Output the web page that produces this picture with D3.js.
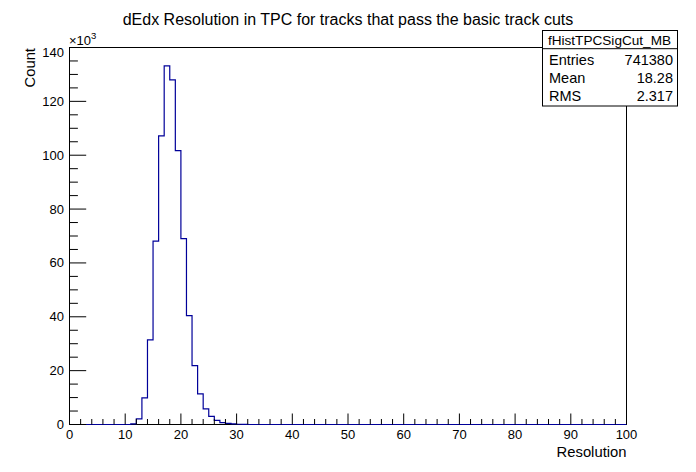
<!DOCTYPE html>
<html>
<head>
<meta charset="utf-8">
<script src="https://cdn.jsdelivr.net/npm/d3@7"></script>
<style>
  html, body { margin: 0; padding: 0; background: #fff; }
  svg { display: block; }
  text { font-family: "Liberation Sans", Arial, Helvetica, sans-serif; fill: #000; }
</style>
</head>
<body>
<svg id="chart" width="696" height="472"></svg>
<script>
// Bin lower edges (width 1) and counts (thousands)
const binStarts = [0,1,2,3,4,5,6,7,8,9,10,11,12,13,14,15,16,17,18,19,20,21,22,23,24,25,26,27,28,29,30,31,32,33,34,35];
const counts = [0,0,0,0,0,0,0,0,0,0,0,0.25,2.1,9.9,31.4,68.1,107.2,133.2,128.0,101.7,69.0,40.4,21.9,11.4,5.8,3.0,1.5,0.7,0.4,0.2,0.1,0.05,0,0,0,0];
const xTicks = [0,10,20,30,40,50,60,70,80,90,100];
const yTicks = [0,20,40,60,80,100,120,140];
const statsLabels = ["Entries","Mean","RMS"];
const statsValues = ["741380","18.28","2.317"];
const titleText = "dEdx Resolution in TPC for tracks that pass the basic track cuts";
const statsTitle = "fHistTPCSigCut_MB";

const svg = d3.select("#chart");
const L = 69.5, R = 626.5, T = 47.5, B = 424.5;
const x = d3.scaleLinear().domain([0,100]).range([L,R]);
const y = d3.scaleLinear().domain([0,140]).range([B,T]);
const lineColor = "#000099";

// frame
svg.append("rect").attr("x",L).attr("y",T).attr("width",R-L).attr("height",B-T)
  .attr("fill","none").attr("stroke","#000").attr("stroke-width",1);

// histogram outline (step)
const pts = [];
pts.push([x(0), y(0)]);
binStarts.forEach((b,i) => {
  pts.push([x(b), y(counts[i])]);
  pts.push([x(b+1), y(counts[i])]);
});
pts.push([x(100), y(0)]);
svg.append("path")
  .attr("d", d3.line()(pts))
  .attr("fill","none").attr("stroke",lineColor).attr("stroke-width",1.2);

// X axis ticks (inward)
const xMinor = d3.range(0,101,2);
svg.append("g").selectAll("line").data(xMinor).join("line")
  .attr("x1",d=>x(d)).attr("x2",d=>x(d))
  .attr("y1",B).attr("y2",d=> d%10===0 ? B-11 : B-5.5)
  .attr("stroke","#000").attr("stroke-width",1);
svg.append("g").selectAll("text").data(xTicks).join("text")
  .attr("x",d=>x(d)).attr("y",439)
  .attr("text-anchor","middle").attr("font-size",13)
  .text(d=>d);
svg.append("text").attr("x",R).attr("y",457).attr("text-anchor","end")
  .attr("font-size",14.8).text("Resolution");

// Y axis ticks (inward)
const yMinor = d3.range(0,141,5);
svg.append("g").selectAll("line").data(yMinor).join("line")
  .attr("y1",d=>y(d)).attr("y2",d=>y(d))
  .attr("x1",L).attr("x2",d=> d%20===0 ? L+16.7 : L+8.4)
  .attr("stroke","#000").attr("stroke-width",1);
svg.append("g").selectAll("text").data(yTicks).join("text")
  .attr("x",64).attr("y",d=>y(d)+ (d===140 ? 9 : 4.5))
  .attr("text-anchor","end").attr("font-size",13)
  .text(d=>d);
// x10^3
const mult = svg.append("text").attr("x",69).attr("y",45).attr("font-size",13);
mult.append("tspan").text("\u00d710");
mult.append("tspan").attr("dy",-6).attr("font-size",9.5).text("3");
// y title
svg.append("text").attr("transform","translate(35,48) rotate(-90)")
  .attr("text-anchor","end").attr("font-size",14.8).text("Count");

// title
svg.append("text").attr("x",348).attr("y",25).attr("text-anchor","middle")
  .attr("font-size",16).text(titleText);

// stats box
const bx = 542.5, by = 30.5, bw = 135, bh = 75.5, divY = 48.7;
svg.append("rect").attr("x",bx).attr("y",by).attr("width",bw).attr("height",bh)
  .attr("fill","#fff").attr("stroke","#000").attr("stroke-width",1);
svg.append("line").attr("x1",bx).attr("x2",bx+bw).attr("y1",divY).attr("y2",divY)
  .attr("stroke","#000").attr("stroke-width",1);
svg.append("text").attr("x",bx+bw/2-0.5).attr("y",44.7).attr("text-anchor","middle")
  .attr("font-size",13.6).text(statsTitle);
const rowY = d3.scaleBand().domain(statsLabels).range([divY, 101.8]);
svg.append("g").selectAll("text").data(statsLabels).join("text")
  .attr("x",bx+6.5).attr("y",d=>rowY(d)+rowY.bandwidth()/2+7.75)
  .attr("font-size",14.5).text(d=>d);
svg.append("g").selectAll("text").data(statsValues).join("text")
  .attr("x",bx+bw-4.5).attr("y",(d,i)=>rowY(statsLabels[i])+rowY.bandwidth()/2+7.75)
  .attr("text-anchor","end").attr("font-size",14.5).text(d=>d);
</script>
</body>
</html>
